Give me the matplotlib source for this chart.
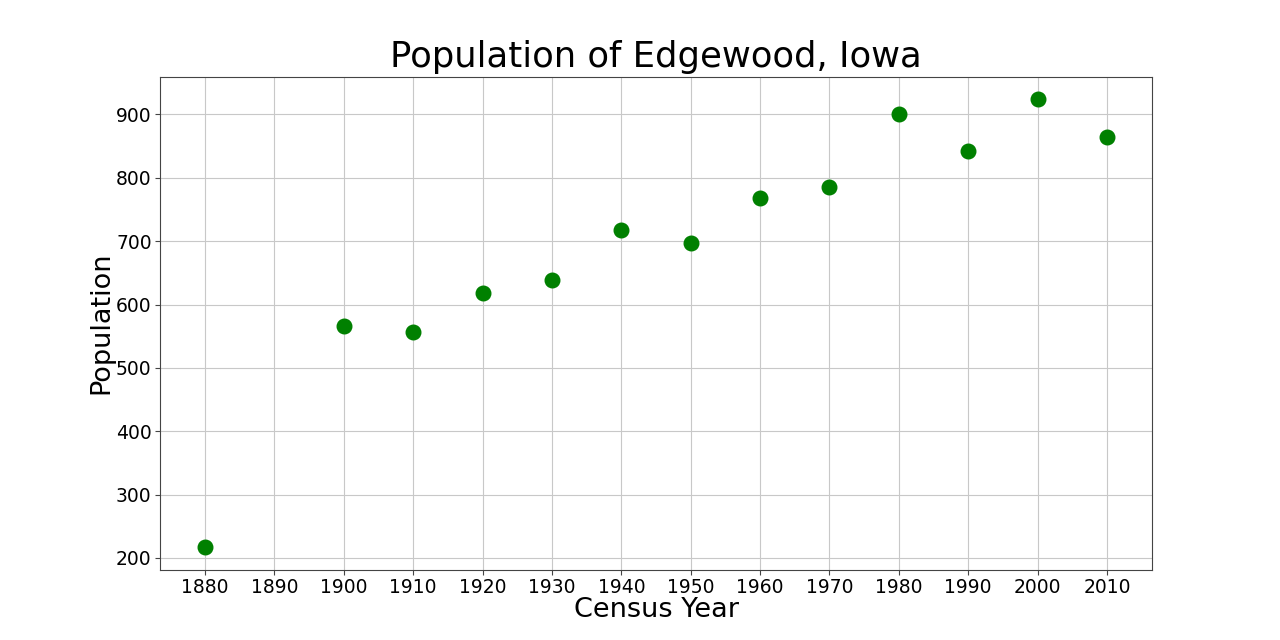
import matplotlib
matplotlib.use("Agg")
import matplotlib.pyplot as plt

#----Data
years = [1880, 1900, 1910, 1920, 1930, 1940, 1950, 1960, 1970, 1980, 1990, 2000, 2010]
population = [217, 566, 556, 618, 638, 717, 697, 768, 786, 900, 842, 924, 864]
year_ticks = list(range(1880, 2011, 10))

fig, ax = plt.subplots(figsize=(12.8, 6.4), dpi=100)

ax.scatter(years, population, color="green", s=110, zorder=3)

ax.set_xticks(year_ticks)
ax.tick_params(axis="both", labelsize=13.5, color="#444444", pad=2.5)
ax.grid(True, color="#c8c8c8")
ax.set_axisbelow(True)
for spine in ax.spines.values():
    spine.set_color("#444444")

ax.set_title("Population of Edgewood, Iowa", fontsize=25.5, pad=7)
ax.set_xlabel("Census Year", fontsize=19.5, labelpad=0)
ax.set_ylabel("Population", fontsize=19.5, labelpad=1)

fig.savefig("out.png", dpi=100)
